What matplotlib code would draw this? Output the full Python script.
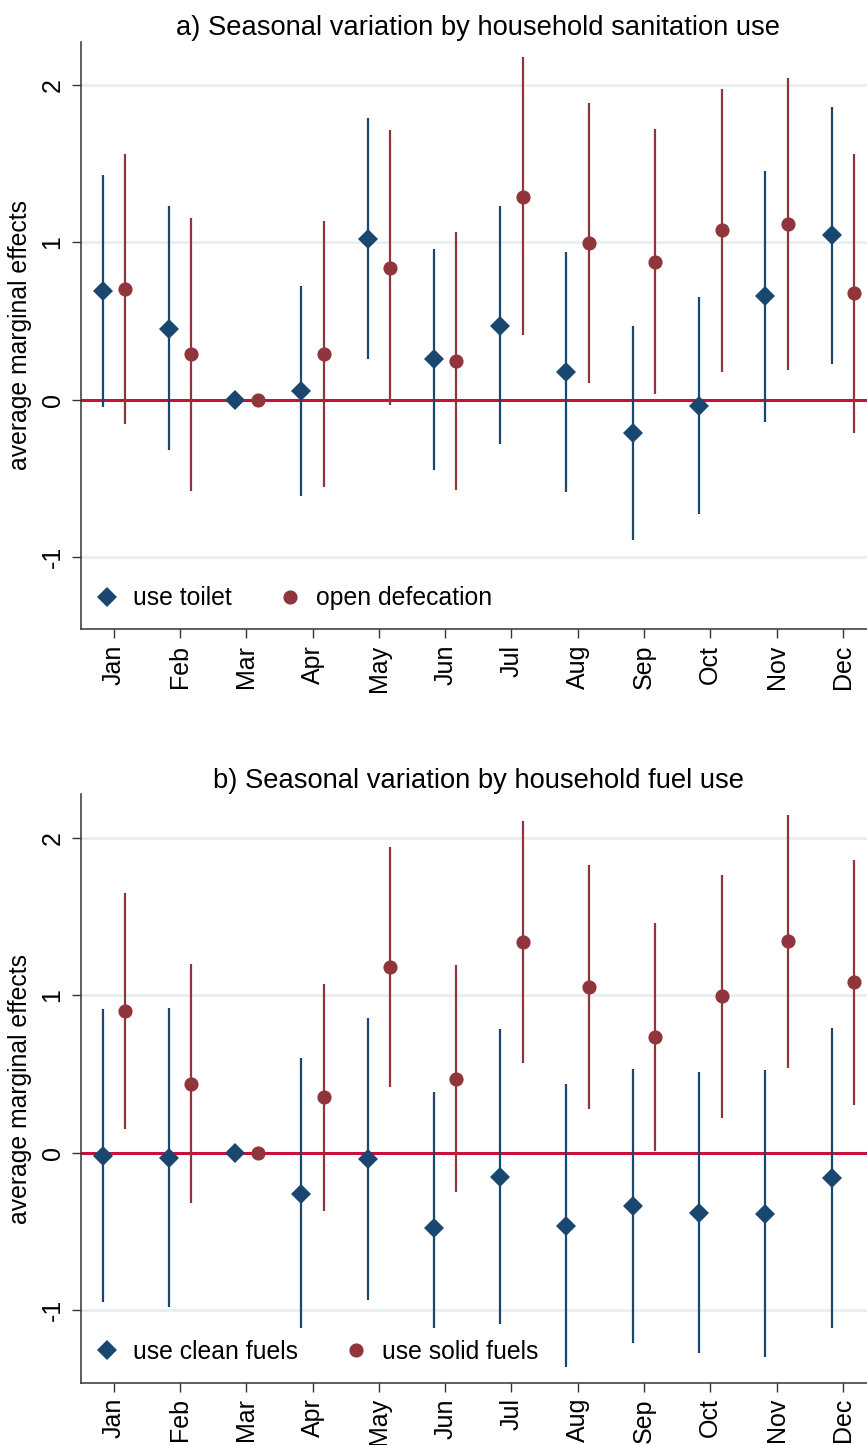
"""Seasonal variation in average marginal effects, two stacked panels."""

import numpy as np
import matplotlib
matplotlib.use('Agg')
import matplotlib.pyplot as plt
from matplotlib.lines import Line2D

nan = np.nan

months = ['Jan', 'Feb', 'Mar', 'Apr', 'May', 'Jun',
          'Jul', 'Aug', 'Sep', 'Oct', 'Nov', 'Dec']

# panel a: sanitation
toilet_est = [0.69, 0.45, 0.0, 0.054, 1.02, 0.255, 0.47, 0.173, -0.21, -0.041, 0.656, 1.044]
toilet_lo = [-0.046, -0.32, nan, -0.61, 0.255, -0.446, -0.28, -0.59, -0.89, -0.73, -0.14, 0.226]
toilet_hi = [1.43, 1.23, nan, 0.72, 1.79, 0.96, 1.23, 0.94, 0.47, 0.65, 1.45, 1.86]

opendef_est = [0.70, 0.287, 0.0, 0.287, 0.838, 0.245, 1.29, 0.995, 0.876, 1.076, 1.116, 0.675]
opendef_lo = [-0.158, -0.58, nan, -0.556, -0.035, -0.577, 0.408, 0.107, 0.033, 0.177, 0.186, -0.215]
opendef_hi = [1.56, 1.156, nan, 1.135, 1.713, 1.067, 2.175, 1.885, 1.718, 1.972, 2.042, 1.563]

# panel b: fuel
clean_est = [-0.02, -0.034, 0.0, -0.26, -0.043, -0.48, -0.155, -0.464, -0.337, -0.381, -0.388, -0.163]
clean_lo = [-0.947, -0.98, nan, -1.115, -0.935, -1.115, -1.09, -1.363, -1.206, -1.27, -1.297, -1.115]
clean_hi = [0.91, 0.917, nan, 0.60, 0.856, 0.388, 0.786, 0.439, 0.53, 0.51, 0.523, 0.79]

solid_est = [0.898, 0.439, 0.0, 0.352, 1.178, 0.468, 1.339, 1.051, 0.733, 0.992, 1.343, 1.083]
solid_lo = [0.152, -0.32, nan, -0.371, 0.42, -0.25, 0.57, 0.275, 0.008, 0.222, 0.54, 0.305]
solid_hi = [1.646, 1.195, nan, 1.072, 1.939, 1.189, 2.108, 1.826, 1.456, 1.761, 2.146, 1.86]

BLUE = '#1a476f'
RED = '#90353b'
ZERO = '#c8103c'
GRID = '#e8eff1'

plt.rcParams['font.family'] = ['Liberation Sans', 'DejaVu Sans']

W, H = 867, 1445
fig = plt.figure(figsize=(W / 100, H / 100), dpi=100)

left = 80.7 / W
width = (876 - 80.7) / W
ax_a = fig.add_axes([left, 1 - 629.3 / H, width, (629.3 - 41.7) / H])
ax_b = fig.add_axes([left, 1 - 1382.7 / H, width, (1382.7 - 794.3) / H])

x = np.arange(1, 13)
off = 0.17
MS_D, MS_O = 10.0, 10.2


def draw_panel(ax, title, s1, s2, labels):
    ax.set_xlim(0.5, 12.5)
    ax.set_ylim(-1.46, 2.275)
    for yv in (-1, 1, 2):
        ax.axhline(yv, color=GRID, lw=2.0, zorder=0)
    ax.axhline(0, color=ZERO, lw=2.2, zorder=1)

    for (est, lo, hi), dx, color, marker, ms in (
        (s1, -off, BLUE, 'D', MS_D),
        (s2, off, RED, 'o', MS_O),
    ):
        ax.vlines(x + dx, lo, hi, color=color, lw=1.6, zorder=2)
        ax.plot(x + dx, est, ls='none', marker=marker, ms=ms, color=color,
                mec=color, mew=0, zorder=3)

    handles = [
        Line2D([], [], ls='none', marker='D', ms=MS_D, color=BLUE, mew=0),
        Line2D([], [], ls='none', marker='o', ms=MS_O, color=RED, mew=0),
    ]
    ax.legend(handles, labels, ncol=2, loc='center left',
              bbox_to_anchor=(0.0174, 0.0528), frameon=False,
              fontsize=17.8, borderpad=0, borderaxespad=0,
              handlelength=1.0, handletextpad=0.55, columnspacing=1.85)

    ax.set_xticks(x)
    ax.set_xticklabels(months, rotation=90, fontsize=18)
    ax.set_yticks([-1, 0, 1, 2])
    ax.set_yticklabels(['-1', '0', '1', '2'], rotation=90, va='center',
                       fontsize=18)
    ax.tick_params(axis='both', direction='out', length=6.8, width=1.0,
                   color='#333333')
    ax.tick_params(axis='x', pad=4.3)
    ax.tick_params(axis='y', pad=4.8)
    for side in ('top', 'right'):
        ax.spines[side].set_visible(False)
    for side in ('left', 'bottom'):
        ax.spines[side].set_color('#333333')
        ax.spines[side].set_linewidth(1.1)
    ax.set_ylabel('average marginal effects', fontsize=17.8)
    ax.yaxis.set_label_coords(-0.0612, 0.5)
    ax.set_title(title, fontsize=19.7, pad=4.8)


draw_panel(ax_a, 'a) Seasonal variation by household sanitation use',
           (toilet_est, toilet_lo, toilet_hi),
           (opendef_est, opendef_lo, opendef_hi),
           ['use toilet', 'open defecation'])
draw_panel(ax_b, 'b) Seasonal variation by household fuel use',
           (clean_est, clean_lo, clean_hi),
           (solid_est, solid_lo, solid_hi),
           ['use clean fuels', 'use solid fuels'])

fig.savefig('out.png', dpi=100)
plt.close(fig)
